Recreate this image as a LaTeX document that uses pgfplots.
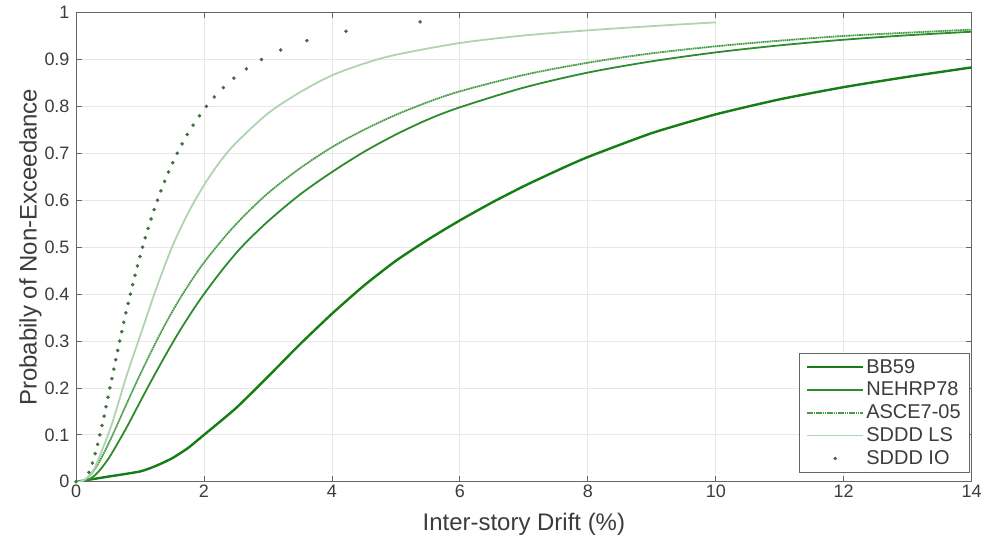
\documentclass[border=0pt]{standalone}
\usepackage{fontspec}
\setmainfont{Liberation Sans}
\usepackage{pgfplots}
\pgfplotsset{compat=1.18}
\definecolor{cBB}{RGB}{20,125,20}
\definecolor{cNE}{RGB}{45,140,45}
\definecolor{cAS}{RGB}{70,155,70}
\definecolor{cLS}{RGB}{175,212,175}
\definecolor{cIO}{RGB}{65,112,65}
\definecolor{txt}{RGB}{60,60,60}
\begin{document}
\begin{tikzpicture}
\begin{axis}[
  name=ax,
  width=897pt, height=470pt, scale only axis,
  xmin=0, xmax=14, ymin=0, ymax=1,
  xtick={0,2,4,6,8,10,12,14},
  ytick={0,0.1,0.2,0.3,0.4,0.5,0.6,0.7,0.8,0.9,1},
  /pgf/number format/assume math mode=true,
  ticklabel style={font=\fontsize{18}{21}\selectfont, text=txt},
  yticklabel style={xshift=-3pt},
  label style={font=\fontsize{24}{28}\selectfont, text=txt},
  xlabel={Inter-story Drift (\%)},
  ylabel={Probabily of Non-Exceedance},
  xlabel style={yshift=-8pt},
  ylabel style={yshift=-4pt},
  grid=major,
  major grid style={gray!18, line width=0.8pt},
  axis line style={gray!80!black, line width=1pt},
  tick align=inside,
  major tick length=6pt,
  tick style={gray!80!black, line width=0.8pt},
  legend style={at={(0.998,0.02)}, anchor=south east, draw=gray!80!black,
    font=\fontsize{20}{23}\selectfont, text=txt, row sep=3.5pt, inner xsep=7pt, inner ysep=4pt},
  legend cell align=left,
  legend image code/.code={\draw[mark repeat=2,mark phase=2,#1] plot coordinates {(2pt,0pt) (30pt,0pt) (58pt,0pt)};},
]
% BB59
\addplot[cBB, line width=2.4pt, smooth, tension=0.35] coordinates {
(0,0) (0.5,0.011) (1,0.022) (1.25,0.034) (1.5,0.05) (1.75,0.072) (2,0.10) (2.5,0.157) (3,0.224) (3.5,0.293) (4,0.358) (4.5,0.418) (5,0.471) (5.5,0.516) (6,0.557) (6.5,0.595) (7,0.63) (7.5,0.662) (8,0.692) (9,0.743) (10,0.783) (11,0.815) (12,0.841) (13,0.863) (14,0.883)};
\addlegendentry{BB59}
% NEHRP78
\addplot[cNE, line width=1.8pt, smooth] coordinates {
(0,0) (0.1,0.0005) (0.2,0.0047) (0.3,0.0145) (0.4,0.0294) (0.5,0.048) (0.6,0.070) (0.8,0.118) (1.0,0.170) (1.2,0.221) (1.4,0.270) (1.6,0.317) (1.8,0.360) (2.0,0.400) (2.3,0.454) (2.6,0.502) (3.0,0.555) (3.5,0.612) (4.0,0.660) (4.5,0.703) (5.0,0.740) (5.5,0.772) (6,0.798) (7,0.840) (8,0.872) (9,0.896) (10,0.915) (11,0.930) (12,0.942) (13,0.9515) (14,0.959)};
\addlegendentry{NEHRP78}
% ASCE7-05
\addplot[cAS, line width=1.8pt, smooth, dash pattern=on 1.6pt off 0.6pt] coordinates {
(0,0) (0.1,0.0015) (0.2,0.011) (0.3,0.0285) (0.4,0.052) (0.5,0.079) (0.6,0.108) (0.8,0.169) (1.0,0.228) (1.2,0.284) (1.4,0.337) (1.6,0.385) (1.8,0.428) (2.0,0.467) (2.3,0.518) (2.6,0.563) (3.0,0.615) (3.5,0.668) (4.0,0.713) (4.5,0.750) (5.0,0.782) (5.5,0.809) (6,0.832) (7,0.867) (8,0.893) (9,0.913) (10,0.928) (11,0.940) (12,0.950) (13,0.957) (14,0.9635)};
\addlegendentry{ASCE7-05}
% SDDD LS
\addplot[cLS, line width=1.8pt, smooth] coordinates {
(0,0) (0.1,0.002) (0.2,0.012) (0.3,0.032) (0.4,0.065) (0.5,0.10) (0.6,0.14) (0.8,0.23) (1.0,0.31) (1.25,0.41) (1.5,0.50) (1.75,0.572) (2.0,0.632) (2.25,0.682) (2.5,0.722) (3,0.785) (3.5,0.83) (4,0.866) (4.5,0.891) (5,0.91) (6,0.935) (7,0.951) (8,0.962) (9,0.971) (10,0.979)};
\addlegendentry{SDDD LS}
% SDDD IO
\addplot[only marks, mark=*, mark size=1.6pt, cIO] coordinates {
(0,0) (0.201,0.02) (0.256,0.04) (0.300,0.06) (0.338,0.08) (0.373,0.10) (0.406,0.12) (0.438,0.14) (0.470,0.16) (0.500,0.18) (0.530,0.20) (0.561,0.22) (0.591,0.24) (0.622,0.26) (0.652,0.28) (0.684,0.30) (0.715,0.32) (0.748,0.34) (0.781,0.36) (0.815,0.38) (0.849,0.40) (0.885,0.42) (0.922,0.44) (0.960,0.46) (0.999,0.48) (1.040,0.50) (1.082,0.52) (1.127,0.54) (1.174,0.56) (1.222,0.58) (1.273,0.60) (1.327,0.62) (1.385,0.64) (1.446,0.66) (1.512,0.68) (1.582,0.70) (1.658,0.72) (1.739,0.74) (1.829,0.76) (1.929,0.78) (2.039,0.80) (2.162,0.82) (2.303,0.84) (2.468,0.86) (2.662,0.88) (2.899,0.90) (3.200,0.92) (3.608,0.94) (4.221,0.96) (5.378,0.98)};
\addlegendentry{SDDD IO}
\end{axis}
\path (current bounding box.north west) ++(-16pt,3pt) (current bounding box.south east);
\end{tikzpicture}
\end{document}
